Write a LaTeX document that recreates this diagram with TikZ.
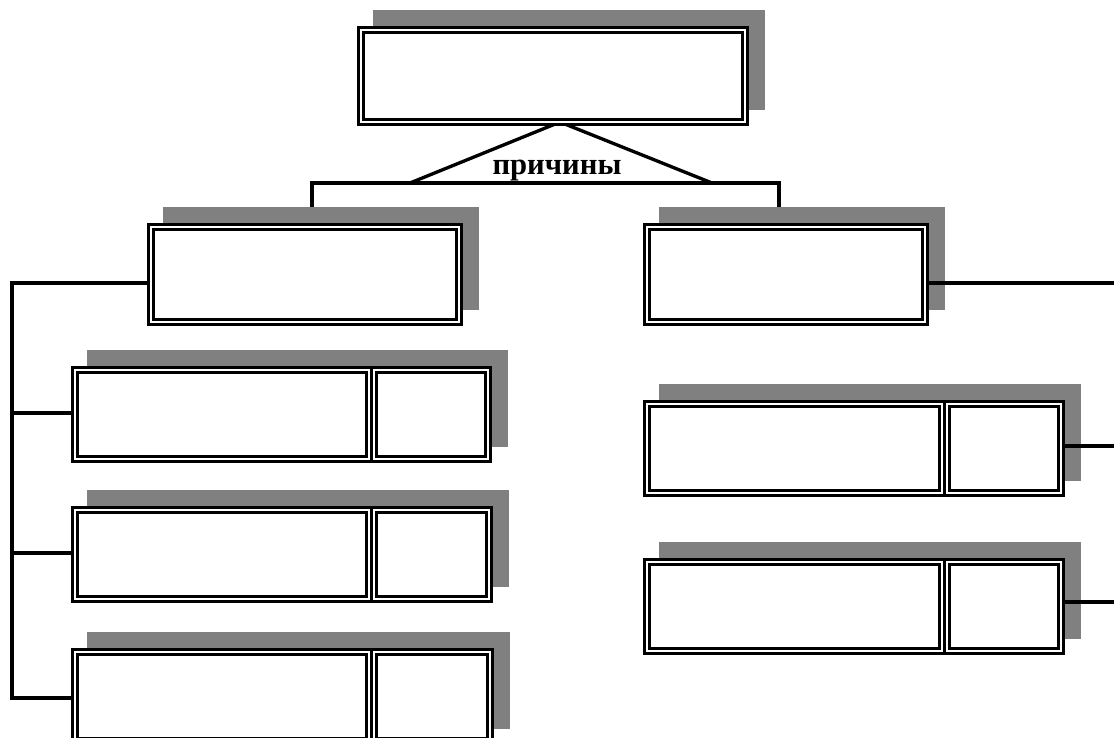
\documentclass[tikz,border=0pt]{standalone}
\usepackage{fontspec}
\setmainfont{Liberation Serif}
\usetikzlibrary{calc}
\pgfdeclarelayer{shadowlayer}
\pgfdeclarelayer{connlayer}
\pgfsetlayers{shadowlayer,connlayer,main}
\definecolor{shadowgray}{HTML}{808080}
\tikzset{
  dbox/.style={draw=black, double=white, double distance=1.9pt, line width=2pt,
    fill=white, rectangle, inner sep=0pt, outer sep=0pt},
  conn/.style={draw=black, line width=2.5pt, line join=miter},
  shade/.style={fill=shadowgray},
  lbl/.style={font=\bfseries\fontsize{23}{27}\selectfont, inner sep=0pt}
}
\newcommand\mkbox[5]{\node[dbox, minimum width={(#4-#2-7.9)*0.75pt},
  minimum height={(#5-#3-7.9)*0.75pt}] (#1) at ({(#2+#4)/2},{(#3+#5)/2}) {};}
\newcommand\mkshadow[4]{\begin{pgfonlayer}{shadowlayer}
  \fill[shade] ({#1+16},{#2-16}) rectangle ({#3+16},{#4-16});\end{pgfonlayer}}
\begin{document}
\begin{tikzpicture}[x=0.75pt,y=-0.75pt]
\useasboundingbox (0,0) rectangle (1114,738);
\clip (0,0) rectangle (1114,738);
% shadows
\mkshadow{357}{26}{749}{126}
\mkshadow{147}{223}{463}{326}
\mkshadow{643}{223}{929}{326}
\mkshadow{71}{366}{492}{463}
\mkshadow{71}{506}{493}{603}
\mkshadow{71}{648}{494}{745}
\mkshadow{643}{400}{1065}{497}
\mkshadow{643}{558}{1065}{655}
% boxes
\mkbox{top}{357}{26}{749}{126}
\mkbox{L}{147}{223}{463}{326}
\mkbox{R}{643}{223}{929}{326}
\mkbox{r1a}{71}{366}{373}{463}
\mkbox{r1b}{370}{366}{492}{463}
\mkbox{r2a}{71}{506}{373}{603}
\mkbox{r2b}{370}{506}{493}{603}
\mkbox{r3a}{71}{648}{373}{745}
\mkbox{r3b}{370}{648}{494}{745}
\mkbox{q1a}{643}{400}{946}{497}
\mkbox{q1b}{943}{400}{1065}{497}
\mkbox{q2a}{643}{558}{946}{655}
\mkbox{q2b}{943}{558}{1065}{655}
% label
\node[lbl, anchor=base] (cause) at (557,175) {причины};
% connectors
\begin{pgfonlayer}{connlayer}
\coordinate (bl) at (410,183);
\coordinate (br) at (712,183);
\draw[conn] (bl) -- ($(top.south)+(7,0)$) -- (br);
\coordinate (barL) at (312,183);
\coordinate (barR) at (779,183);
\coordinate (dropL) at (312,207);
\coordinate (dropR) at (779,207);
\draw[conn] (dropL) -- (barL) -- (barR) -- (dropR);
\coordinate (trunk) at (12,283);
\coordinate (trunkBot) at (12,698);
\coordinate (y1) at (0,413);
\coordinate (y2) at (0,553);
\draw[conn] (L.west |- trunk) -- (trunk) -- (trunkBot) -- (r3a.west |- trunkBot);
\draw[conn] (r1a.west |- y1) -- (trunk |- y1);
\draw[conn] (r2a.west |- y2) -- (trunk |- y2);
\coordinate (e0) at (1114,283);
\coordinate (e1) at (1114,446);
\coordinate (e2) at (1114,602);
\draw[conn] (R.east |- e0) -- (e0);
\draw[conn] (q1b.east |- e1) -- (e1);
\draw[conn] (q2b.east |- e2) -- (e2);
\end{pgfonlayer}
\end{tikzpicture}
\end{document}
